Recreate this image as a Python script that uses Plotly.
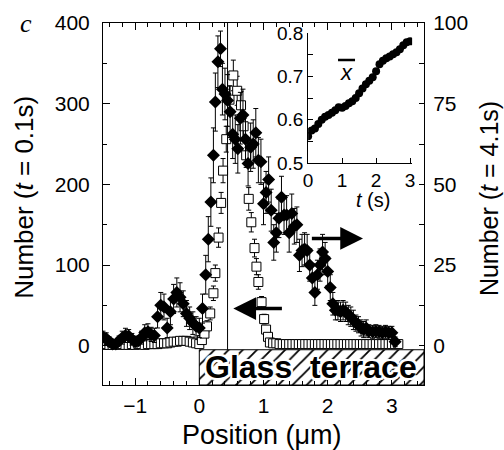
import plotly.graph_objects as go

# ---------------- data ----------------
# Open squares: Number (t = 0.1 s), left axis
sq_x = [-1.50, -1.45, -1.40, -1.35, -1.30, -1.25, -1.20, -1.15, -1.10, -1.05,
        -1.00, -0.95, -0.90, -0.85, -0.80, -0.75, -0.70, -0.65, -0.60, -0.55,
        -0.50, -0.45, -0.40, -0.35, -0.30, -0.25, -0.20, -0.15, -0.10, -0.05,
        0.00, 0.04, 0.08, 0.12, 0.17, 0.22, 0.25, 0.30, 0.34, 0.37,
        0.42, 0.47, 0.53, 0.59, 0.65, 0.69, 0.73, 0.77, 0.81, 0.86,
        0.89, 0.92, 0.97, 1.01, 1.04, 1.07,
        1.10, 1.15, 1.20, 1.25, 1.30, 1.35, 1.40, 1.45, 1.50, 1.55,
        1.60, 1.65, 1.70, 1.75, 1.80, 1.85, 1.90, 1.95, 2.00, 2.05,
        2.10, 2.15, 2.20, 2.25, 2.30, 2.35, 2.40, 2.45, 2.50, 2.55,
        2.60, 2.65, 2.70, 2.75, 2.80, 2.85, 2.90, 2.95, 3.00, 3.05, 3.10]
sq_y = [1, 2, 1, 1, 2, 1, 2, 1, 1, 2,
        1, 2, 2, 1, 2, 2, 2, 2, 3, 3,
        3, 4, 5, 5, 6, 6, 6, 5, 4, 3,
        2, 7, 15, 24, 40, 65, 90, 134, 177, 217,
        256, 305, 335, 316, 298, 272, 236, 182, 153, 121,
        98, 79, 54, 33, 20, 11,
        4, 3, 3, 2, 2, 2, 2, 2, 2, 2,
        2, 2, 2, 2, 2, 2, 2, 2, 2, 2,
        2, 2, 2, 2, 2, 2, 2, 2, 2, 2,
        2, 2, 2, 2, 2, 2, 2, 2, 2, 2, 2]
sq_err = [3, 3, 3, 3, 3, 3, 3, 3, 3, 3,
          3, 3, 3, 3, 3, 3, 3, 3, 3, 3,
          3, 3, 3, 3, 3, 3, 3, 3, 3, 3,
          3, 5, 6, 7, 8, 9, 10, 12, 13, 15,
          16, 17, 19, 18, 17, 16, 15, 14, 12, 11,
          10, 9, 7, 6, 5, 4,
          3, 3, 3, 3, 3, 3, 3, 3, 3, 3,
          3, 3, 3, 3, 3, 3, 3, 3, 3, 3,
          3, 3, 3, 3, 3, 3, 3, 3, 3, 3,
          3, 3, 3, 3, 3, 3, 3, 3, 3, 3, 3]

# Filled diamonds: Number (t = 4.1 s), right axis
dm_x = [-1.50, -1.45, -1.40, -1.35, -1.30, -1.25, -1.20, -1.15, -1.10, -1.05,
        -1.00, -0.95, -0.90, -0.85, -0.80, -0.75, -0.70, -0.65, -0.60, -0.55,
        -0.50, -0.45, -0.40, -0.35, -0.30, -0.25, -0.20, -0.15, -0.10, -0.05,
        0.00, 0.05, 0.10, 0.14, 0.18, 0.22, 0.25, 0.29, 0.33, 0.36,
        0.40, 0.44, 0.48, 0.52, 0.56, 0.60, 0.64, 0.68, 0.72, 0.76,
        0.80, 0.84, 0.88, 0.92, 0.96, 1.00, 1.04, 1.08, 1.12, 1.16,
        1.20, 1.24, 1.28, 1.32, 1.36, 1.40, 1.44, 1.48, 1.52, 1.56,
        1.60, 1.64, 1.68, 1.72, 1.76, 1.80, 1.84, 1.88, 1.92, 1.96,
        2.00, 2.04, 2.08, 2.12, 2.16, 2.20, 2.24, 2.28, 2.32, 2.36,
        2.40, 2.44, 2.48, 2.52, 2.56, 2.60, 2.64, 2.70, 2.75, 2.80,
        2.85, 2.90, 2.95, 3.00, 3.05]
dm_y = [2.7, 2.2, 1.2, 0.5, 0.5, 1.5, 2.5, 3.2, 3.0, 2.0,
        1.2, 1.5, 2.5, 4.0, 4.3, 3.5, 3.2, 9.0, 12.5, 12.0,
        5.5, 10.5, 14.5, 16.5, 15.0, 13.0, 10.0, 8.5, 7.0, 6.0,
        5.5, 11.5, 22.0, 33.0, 44.5, 59.0, 75.5, 88.0, 92.0, 79.5,
        78.0, 76.0, 72.5, 65.5, 64.0, 61.0, 70.5, 71.5, 64.0, 56.5,
        61.5, 62.5, 66.0, 57.5, 57.0, 44.0, 47.5, 51.5, 42.0, 32.0,
        35.0, 39.5, 46.0, 40.5, 40.5, 35.0, 41.0, 37.0, 37.5, 28.0,
        29.5, 30.0, 29.5, 25.0, 21.0, 16.5, 22.0, 25.0, 29.0, 27.0,
        23.0, 18.0, 13.0, 11.0, 11.0, 10.5, 11.0, 10.5, 9.5, 9.0,
        8.0, 7.0, 6.5, 5.5, 5.0, 5.5, 4.5, 4.3, 4.5, 4.3,
        4.0, 4.3, 4.0, 4.0, 1.2]
dm_err = [1.8, 1.8, 1.5, 1.2, 1.2, 1.5, 2.0, 2.2, 2.0, 1.8,
          1.5, 1.5, 2.0, 2.5, 2.5, 2.2, 2.2, 3.5, 4.0, 4.0,
          3.0, 4.0, 4.5, 4.5, 4.5, 4.0, 4.0, 3.5, 3.5, 3.0,
          3.0, 4.5, 6.0, 7.0, 7.5, 8.5, 9.0, 8.0, 5.5, 8.0,
          8.0, 8.0, 8.0, 7.5, 7.5, 7.5, 8.0, 8.0, 7.5, 7.0,
          7.5, 7.5, 7.5, 7.0, 7.0, 6.5, 6.5, 7.0, 6.5, 5.5,
          6.0, 6.0, 6.5, 6.0, 6.0, 6.0, 6.0, 5.5, 5.5, 5.0,
          5.0, 5.0, 5.0, 5.0, 4.5, 4.0, 4.5, 5.0, 5.5, 5.0,
          4.5, 4.0, 3.5, 3.0, 3.0, 3.0, 3.0, 3.0, 3.0, 3.0,
          3.0, 2.5, 2.5, 2.5, 2.5, 2.5, 2.0, 2.0, 2.0, 2.0,
          2.0, 2.0, 2.0, 2.0, 1.5]

# Inset: mean position x-bar vs time
in_t = [0.0, 0.1, 0.2, 0.3, 0.4, 0.5, 0.6, 0.7, 0.8, 0.9,
        1.0, 1.1, 1.2, 1.3, 1.4, 1.5, 1.6, 1.7, 1.8, 1.9,
        2.0, 2.1, 2.2, 2.3, 2.4, 2.5, 2.6, 2.7, 2.8, 2.9, 3.0]
in_x = [0.562, 0.575, 0.580, 0.590, 0.600, 0.607, 0.611, 0.616, 0.622, 0.629,
        0.628, 0.632, 0.638, 0.643, 0.650, 0.661, 0.672, 0.682, 0.690, 0.698,
        0.712, 0.728, 0.736, 0.742, 0.746, 0.751, 0.756, 0.763, 0.772, 0.779, 0.781]

left_ticks = [0, 100, 200, 300, 400]
right_ticks = [0, 25, 50, 75, 100]
x_ticks = [-1, 0, 1, 2, 3]
inset_yticks = [0.5, 0.6, 0.7, 0.8]
inset_xticks = [0, 1, 2, 3]

# decorations
X_RANGE = [-1.5, 3.5]
YL_RANGE = [-48.7, 400]
YR_RANGE = [-12.175, 100]
TERRACE_TOP = -5
VLINE_X = 0.44

FONT = "Liberation Sans, Arial, Helvetica, sans-serif"

fig = go.Figure()

# glass terrace hatch
fig.add_trace(go.Scatter(
    x=[0, X_RANGE[1], X_RANGE[1], 0, 0],
    y=[TERRACE_TOP, TERRACE_TOP, YL_RANGE[0], YL_RANGE[0], TERRACE_TOP],
    mode="lines", fill="toself", line=dict(color="black", width=1),
    fillpattern=dict(shape="/", size=10, solidity=0.18, fgcolor="black", bgcolor="white"),
    hoverinfo="skip", showlegend=False, xaxis="x", yaxis="y"))

fig.add_trace(go.Scatter(
    x=sq_x, y=sq_y, mode="markers", xaxis="x", yaxis="y",
    marker=dict(symbol="square", size=9, color="white", line=dict(color="black", width=1)),
    error_y=dict(type="data", array=sq_err, color="black", thickness=1, width=2.5),
    showlegend=False))

fig.add_trace(go.Scatter(
    x=dm_x, y=dm_y, mode="markers", xaxis="x", yaxis="y2",
    marker=dict(symbol="diamond", size=10, color="black", line=dict(width=0)),
    error_y=dict(type="data", array=dm_err, color="black", thickness=1, width=2.5),
    showlegend=False))

fig.add_trace(go.Scatter(
    x=in_t, y=in_x, mode="markers", xaxis="x2", yaxis="y3",
    marker=dict(symbol="circle", size=8, color="black"),
    showlegend=False))

axis_common = dict(showgrid=False, zeroline=False, showline=True, linecolor="black",
                   linewidth=1, ticks="inside", tickcolor="black", tickwidth=1,
                   automargin=False,
                   tickfont=dict(family=FONT, size=21, color="black"))
inset_common = dict(showgrid=False, zeroline=False, showline=True, linecolor="black", linewidth=1,
                    ticks="inside", ticklen=5, tickcolor="black", automargin=False,
                    tickfont=dict(family=FONT, size=19, color="black"))

fig.update_layout(
    template="none",
    width=504, height=450,
    margin=dict(l=103, r=80, t=23, b=65, autoexpand=False),
    paper_bgcolor="white", plot_bgcolor="white",
    showlegend=False,
    xaxis=dict(axis_common, range=X_RANGE, tickvals=x_ticks, ticklen=7,
               minor=dict(dtick=0.2, ticklen=4, ticks="inside", tickcolor="black"),
               mirror="ticks", ticklabelstandoff=2),
    yaxis=dict(axis_common, range=YL_RANGE, tickvals=left_ticks, ticklen=7,
               minor=dict(tickvals=[50, 150, 250, 350], ticklen=4, ticks="inside", tickcolor="black"),
               ticklabelstandoff=8),
    yaxis2=dict(axis_common, range=YR_RANGE, tickvals=right_ticks, ticklen=5,
                overlaying="y", side="right", anchor="x",
                minor=dict(tickvals=[12.5, 37.5, 62.5, 87.5], ticklen=5, ticks="inside", tickcolor="black"),
                ticklabelstandoff=4),
    xaxis2=dict(inset_common, domain=[0.639, 0.963], anchor="y3", range=[0, 3.06],
                tickvals=inset_xticks),
    yaxis3=dict(inset_common, domain=[0.613, 0.972], anchor="x2", range=[0.5, 0.8],
                tickvals=inset_yticks, tickformat=".1f",
                minor=dict(tickvals=[0.55, 0.65, 0.75], ticklen=5, ticks="inside", tickcolor="black")),
)

# vertical line at terrace edge region
fig.add_shape(type="line", xref="x", yref="y", x0=VLINE_X, x1=VLINE_X,
              y0=TERRACE_TOP, y1=YL_RANGE[1], line=dict(color="black", width=1))

# overline of x-bar in inset
fig.add_shape(type="line", xref="x2", yref="y3", x0=0.88, x1=1.38, y0=0.738, y1=0.738,
              line=dict(color="black", width=2.5))

C = dict(xanchor="center", yanchor="middle", showarrow=False)
ann = [
    dict(C, text="<i>x</i>", xref="x2", yref="y3", x=1.12, y=0.708,
         font=dict(family=FONT, size=22, color="black")),
    dict(C, text="<i>t</i> (s)", xref="paper", yref="paper", x=0.841, y=0.51,
         font=dict(family=FONT, size=20, color="black")),
    dict(C, text="Position (μm)", xref="paper", yref="paper", x=0.494, y=-0.138,
         font=dict(family=FONT, size=27, color="black")),
    dict(C, text="Number (<i>t</i> = 0.1s)", xref="paper", yref="paper", x=-0.247, y=0.519,
         textangle=-90, font=dict(family=FONT, size=26, color="black")),
    dict(C, text="Number (<i>t</i> = 4.1s)", xref="paper", yref="paper", x=1.203, y=0.514,
         textangle=-90, font=dict(family=FONT, size=25, color="black")),
    dict(C, text="<i>c</i>", xref="paper", yref="paper", x=-0.24, y=1.0,
         font=dict(family="Liberation Serif, Times New Roman, serif", size=26, color="black")),
    dict(C, text="<b>Glass  terrace</b>", xref="x", yref="y", x=1.74, y=-27,
         font=dict(family=FONT, size=32, color="black",
                   shadow="2px 2px 0 white, -2px -2px 0 white, 2px -2px 0 white, -2px 2px 0 white")),
    dict(text="", xref="x", yref="y", axref="x", ayref="y", x=0.53, y=46, ax=1.31, ay=46,
         showarrow=True, arrowhead=2, arrowsize=1.3, arrowwidth=3.5, arrowcolor="black"),
    dict(text="", xref="x", yref="y", axref="x", ayref="y", x=2.55, y=133, ax=1.73, ay=133,
         showarrow=True, arrowhead=2, arrowsize=1.3, arrowwidth=3.5, arrowcolor="black"),
]
fig.update_layout(annotations=ann)

fig.write_html("out.html", config={"displayModeBar": False},
               post_script="document.body.style.margin='0';document.body.style.overflow='hidden';")
